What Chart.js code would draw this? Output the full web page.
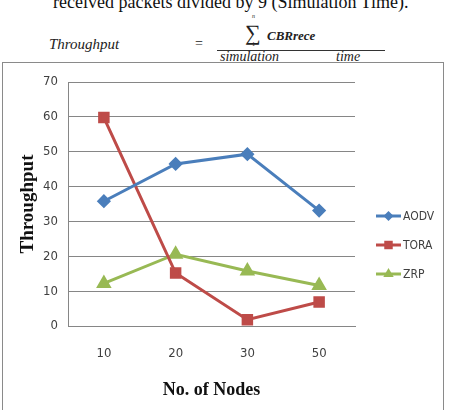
<!DOCTYPE html>
<html>
<head>
<meta charset="utf-8">
<script src="https://cdn.jsdelivr.net/npm/chart.js@4.4.1/dist/chart.umd.min.js"></script>
<style>
  body { margin: 0; background: #fff; width: 449px; height: 410px; overflow: hidden; position: relative; font-family: "Liberation Serif", "Times New Roman", serif; }
  .t { position: absolute; white-space: nowrap; font-style: italic; font-size: 14px; color: #222; }
  #head { position: absolute; left: 53px; top: -8px; font-size: 18px; white-space: nowrap; color: #111; }
  #frac { position: absolute; left: 217px; top: 50px; width: 168px; border-top: 1px solid #333; }
  #box { position: absolute; left: 2px; top: 62px; width: 440px; height: 350px; border: 1px solid #8a8a8a; }
</style>
</head>
<body>
<div id="head">received packets divided by 9 (Simulation Time).</div>
<span class="t" style="left:49px;top:36px;font-size:15px">Throughput</span>
<span class="t" style="left:195px;top:36px;font-style:normal">=</span>
<span class="t" style="left:245px;top:20px;font-size:22px;font-style:normal">&sum;</span>
<span class="t" style="left:252px;top:13px;font-size:6px">n</span>
<span class="t" style="left:252px;top:41px;font-size:6px;font-style:normal">1</span>
<span class="t" style="left:267px;top:28px;font-weight:bold;font-size:13px">CBRrece</span>
<div id="frac"></div>
<span class="t" style="left:220px;top:49px">simulation</span>
<span class="t" style="left:336px;top:49px">time</span>
<div id="box"><canvas id="myChart" width="440" height="350"></canvas></div>
<script>
var nodes = ["10", "20", "30", "50"];
var aodv = [35.8, 46.5, 49.3, 33.1];
var tora = [59.8, 15.2, 1.8, 6.9];
var zrp = [12.2, 20.6, 15.8, 11.6];
var yTicks = [0, 10, 20, 30, 40, 50, 60, 70];

var tickFont = "'DejaVu Sans Condensed', 'Liberation Sans Narrow', 'Liberation Sans', sans-serif";

// legend drawn off to the right like the Excel original
var sideLegend = {
  id: 'sideLegend',
  afterDraw: function(chart) {
    var c = chart.ctx;
    var x0 = 373, y0 = 153, gap = 29;
    chart.data.datasets.forEach(function(ds, i) {
      var y = y0 + i * gap;
      c.save();
      c.strokeStyle = ds.borderColor;
      c.lineWidth = 3;
      c.beginPath();
      c.moveTo(x0, y);
      c.lineTo(x0 + 25, y);
      c.stroke();
      c.fillStyle = ds.backgroundColor;
      Chart.helpers.drawPoint(c, { pointStyle: ds.pointStyle, radius: ds.pointRadius, borderWidth: 0, rotation: 0 }, x0 + 12.5, y);
      c.fillStyle = '#404040';
      c.font = "12px " + tickFont;
      c.textBaseline = 'middle';
      c.fillText(ds.label, x0 + 27, y + 1);
      c.restore();
    });
  }
};

var ctx = document.getElementById("myChart");
var myChart = new Chart(ctx, {
  type: 'line',
  data: {
    labels: nodes,
    datasets: [{
      label: 'AODV',
      data: aodv,
      borderColor: "#4A7EBB",
      backgroundColor: "#4A7EBB",
      pointStyle: 'rectRot',
      pointRadius: 5,
      borderWidth: 3
    }, {
      label: 'TORA',
      data: tora,
      borderColor: "#BE4B48",
      backgroundColor: "#BE4B48",
      pointStyle: 'rect',
      pointRadius: 6,
      borderWidth: 3
    }, {
      label: 'ZRP',
      data: zrp,
      borderColor: "#98B954",
      backgroundColor: "#98B954",
      pointStyle: 'triangle',
      pointRadius: 6,
      borderWidth: 3
    }]
  },
  options: {
    responsive: false,
    animation: false,
    layout: { padding: { left: 14, right: 88, top: 19, bottom: 0 } },
    plugins: { legend: { display: false }, tooltip: { enabled: false } },
    elements: { line: { tension: 0 }, point: { borderWidth: 0 } },
    scales: {
      x: {
        offset: true,
        grid: { display: false, drawTicks: false, offset: true },
        border: { color: '#868686', width: 1 },
        ticks: { color: '#404040', font: { family: tickFont, size: 13 }, padding: 20 },
        title: { display: true, text: 'No. of Nodes', color: '#111',
          font: { family: "'Liberation Serif', 'Times New Roman', serif", size: 18, weight: 'bold' },
          padding: { top: 0, bottom: 12 } },
        afterFit: function(s) { s.height = 87; }
      },
      y: {
        min: 0, max: 70,
        afterBuildTicks: function(s) { s.ticks = yTicks.map(function(v) { return { value: v }; }); },
        grid: { color: '#868686', lineWidth: 1, drawTicks: false },
        border: { color: '#868686', width: 1 },
        ticks: { color: '#404040', font: { family: tickFont, size: 13 }, padding: 10 },
        title: { display: true, text: 'Throughput', color: '#111',
          font: { family: "'Liberation Serif', 'Times New Roman', serif", size: 19, weight: 'bold' },
          padding: { top: 0, bottom: 0 } },
        afterFit: function(s) { s.width = 51; }
      }
    }
  },
  plugins: [sideLegend]
});
</script>
</body>
</html>
